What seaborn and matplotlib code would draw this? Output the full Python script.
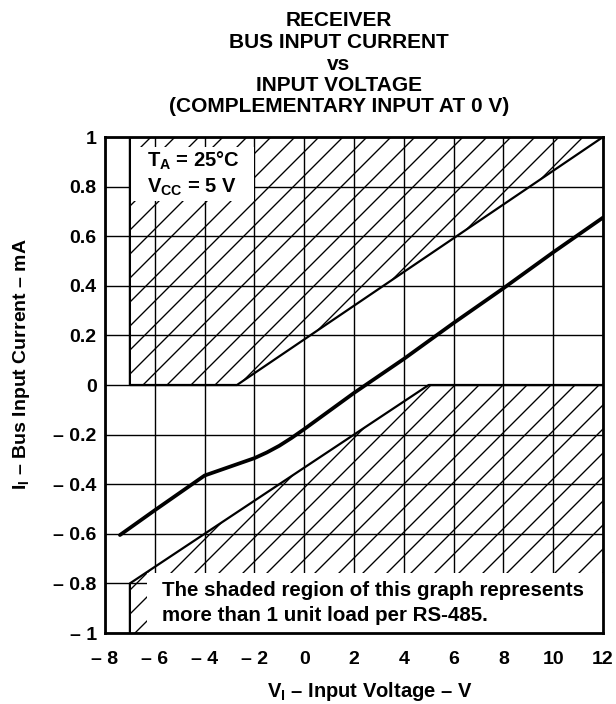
import matplotlib
matplotlib.use("Agg")
import matplotlib.pyplot as plt
import seaborn as sns
from matplotlib.patches import Rectangle

# ---------------- data ----------------
voltage = [-7.4, -6, -4, -3, -2, -1.5, -1, -0.5, 0, 2, 4, 6, 8, 10, 12]
current = [-0.605, -0.505, -0.365, -0.33, -0.295, -0.272, -0.245, -0.213, -0.178,
           -0.032, 0.105, 0.25, 0.39, 0.535, 0.675]

upper_v = [-7, -7, -2.7, 12]
upper_i = [1, 0, 0, 1]
lower_v = [-7, -7, 5, 12]
lower_i = [-1, -0.8, 0, 0]

xticks = [-8, -6, -4, -2, 0, 2, 4, 6, 8, 10, 12]
xtick_labels = ["\u2013 8", "\u2013 6", "\u2013 4", "\u2013 2", "0", "2", "4", "6", "8", "10", "12"]
yticks = [-1, -0.8, -0.6, -0.4, -0.2, 0, 0.2, 0.4, 0.6, 0.8, 1]
ytick_labels = ["\u2013 1", "\u2013 0.8", "\u2013 0.6", "\u2013 0.4", "\u2013 0.2", "0",
                "0.2", "0.4", "0.6", "0.8", "1"]

title_lines = ["RECEIVER", "BUS INPUT CURRENT", "vs", "INPUT VOLTAGE",
               "(COMPLEMENTARY INPUT AT 0 V)"]
note_lines = ["The shaded region of this graph represents",
              "more than 1 unit load per RS-485."]
cond_lines = ["T$_\\mathrm{A}$ = 25\u00b0C", "V$_\\mathrm{CC}$ = 5 V"]
xlabel = "V$_\\mathrm{I}$ \u2013 Input Voltage \u2013 V"
ylabel = "I$_\\mathrm{I}$ \u2013 Bus Input Current \u2013 mA"

# render at 72 dpi so the hatch spacing matches; K converts sizes
DPI = 72
K = 100 / DPI

# ---------------- style ----------------
sns.set_theme(style="white")
plt.rcParams["font.family"] = ["Liberation Sans", "DejaVu Sans"]
plt.rcParams["font.weight"] = "bold"
plt.rcParams["mathtext.fontset"] = "custom"
plt.rcParams["mathtext.rm"] = "Liberation Sans:bold"
plt.rcParams["mathtext.it"] = "Liberation Sans:bold"
plt.rcParams["mathtext.bf"] = "Liberation Sans:bold"
plt.rcParams["hatch.linewidth"] = 1.35
plt.rcParams["hatch.color"] = "black"
for key in ["text.color", "axes.labelcolor", "xtick.color", "ytick.color",
            "xtick.labelcolor", "ytick.labelcolor"]:
    plt.rcParams[key] = "black"

fig = plt.figure(figsize=(616 / DPI, 704 / DPI), dpi=DPI)
fig.patch.set_facecolor("white")
ax = fig.add_axes([105 / 616, 1 - 633 / 704, 498 / 616, 496 / 704])
ax.set_axisbelow(True)

# hatched regions
ax.fill_between(upper_v, upper_i, 1, facecolor="none", edgecolor="black",
                linewidth=0, hatch="/", zorder=1)
ax.fill_between(lower_v, lower_i, -1, facecolor="none", edgecolor="black",
                linewidth=0, hatch="/", zorder=1)

# boundary lines
sns.lineplot(x=upper_v, y=upper_i, ax=ax, color="black", linewidth=1.6 * K,
             estimator=None, sort=False, zorder=3)
sns.lineplot(x=lower_v, y=lower_i, ax=ax, color="black", linewidth=1.6 * K,
             estimator=None, sort=False, zorder=3)
# measured curve
sns.lineplot(x=voltage, y=current, ax=ax, color="black", linewidth=2.7 * K,
             estimator=None, sort=False, zorder=3)

# white label boxes
ax.add_patch(Rectangle((-6.3, -1), 18.3, 0.24, facecolor="white",
                       edgecolor="none", zorder=2.5))
ax.add_patch(Rectangle((-6.95, 0.74), 4.95, 0.22, facecolor="white",
                       edgecolor="none", zorder=2.5))

ax.text(0.1145, 0.0746, note_lines[0], transform=ax.transAxes, ha="left",
        va="baseline", fontsize=14.8 * K, fontweight="bold", zorder=4)
ax.text(0.1145, 0.0242, note_lines[1], transform=ax.transAxes, ha="left",
        va="baseline", fontsize=14.8 * K, fontweight="bold", zorder=4)
ax.text(-6.31, 0.879, cond_lines[0], ha="left", va="baseline",
        fontsize=14.5 * K, fontweight="bold", zorder=4)
ax.text(-6.31, 0.774, cond_lines[1], ha="left", va="baseline",
        fontsize=14.5 * K, fontweight="bold", zorder=4)

# axes
ax.set_xlim(-8, 12)
ax.set_ylim(-1, 1)
ax.set_xticks(xticks)
ax.set_xticklabels(xtick_labels, fontsize=14 * K, fontweight="bold")
ax.set_yticks(yticks)
ax.set_yticklabels(ytick_labels, fontsize=14 * K, fontweight="bold")
ax.tick_params(axis="x", length=0, pad=13 * K)
ax.tick_params(axis="y", length=0, pad=6 * K)
ax.grid(True, color="black", linewidth=1.0 * K)
for s in ax.spines.values():
    s.set_color("black")
    s.set_linewidth(2.0 * K)

ax.set_xlabel(xlabel, fontsize=14.5 * K, fontweight="bold", va="baseline")
ax.xaxis.set_label_coords(0.532, (633 - 697) / 496)
ax.set_ylabel(ylabel, fontsize=14 * K, fontweight="bold", va="center")
ax.yaxis.set_label_coords((22 - 105) / 498, (633 - 364) / 496)

# title
baselines = [26, 48, 69.5, 91, 112.5]
for line, b in zip(title_lines, baselines):
    fig.text(339 / 616, 1 - b / 704, line, ha="center", va="baseline",
             fontsize=15 * K, fontweight="bold")

fig.savefig("out.png", dpi=DPI, facecolor="white")
